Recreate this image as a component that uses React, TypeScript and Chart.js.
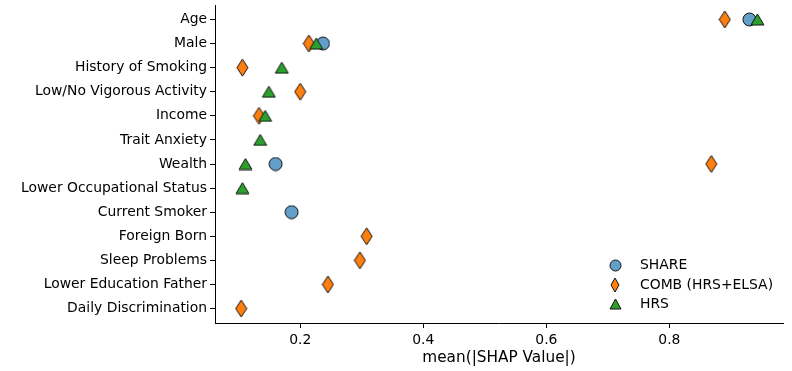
import React, { useEffect, useRef } from 'react';
import { Chart, registerables } from 'chart.js';
Chart.register(...registerables);

const categories = [
  'Age', 'Male', 'History of Smoking', 'Low/No Vigorous Activity', 'Income', 'Trait Anxiety',
  'Wealth', 'Lower Occupational Status', 'Current Smoker', 'Foreign Born', 'Sleep Problems',
  'Lower Education Father', 'Daily Discrimination',
];
const shareValues = [0.930, 0.237, null, null, null, null, 0.160, null, 0.186, null, null, null, null];
const combValues = [0.890, 0.214, 0.106, 0.200, 0.133, null, 0.868, null, null, 0.308, 0.297, 0.245, 0.104];
const hrsValues = [0.943, 0.226, 0.170, 0.149, 0.143, 0.135, 0.111, 0.106, null, null, null, null, null];
const seriesNames = ['SHARE', 'COMB (HRS+ELSA)', 'HRS'];
const xTicks = [0.2, 0.4, 0.6, 0.8];
const xTitle = 'mean(|SHAP Value|)';

const BLUE = '#62a0ca';
const ORANGE = '#ff7f0e';
const GREEN = '#2ca02c';
const FONT = 'DejaVu Sans';
const TICK_SIZE = 13.9;

function makeDiamond(w: number, h: number, color: string) {
  const c = document.createElement('canvas');
  c.width = w + 2; c.height = h + 2;
  const ctx = c.getContext('2d')!;
  const cx = c.width / 2, cy = c.height / 2;
  ctx.beginPath();
  ctx.moveTo(cx, cy - h / 2);
  ctx.lineTo(cx + w / 2, cy);
  ctx.lineTo(cx, cy + h / 2);
  ctx.lineTo(cx - w / 2, cy);
  ctx.closePath();
  ctx.fillStyle = color; ctx.fill();
  ctx.strokeStyle = '#111'; ctx.lineWidth = 1; ctx.stroke();
  return c;
}
function makeTriangle(w: number, h: number, color: string) {
  const c = document.createElement('canvas');
  c.width = w + 2; c.height = h + 2;
  const ctx = c.getContext('2d')!;
  const cx = c.width / 2, cy = c.height / 2;
  ctx.beginPath();
  ctx.moveTo(cx, cy - h / 2);
  ctx.lineTo(cx + w / 2, cy + h / 2);
  ctx.lineTo(cx - w / 2, cy + h / 2);
  ctx.closePath();
  ctx.fillStyle = color; ctx.fill();
  ctx.strokeStyle = '#111'; ctx.lineWidth = 1; ctx.stroke();
  return c;
}
function makeCircle(d: number, color: string) {
  const c = document.createElement('canvas');
  c.width = d + 2; c.height = d + 2;
  const ctx = c.getContext('2d')!;
  ctx.beginPath();
  ctx.arc(c.width / 2, c.height / 2, d / 2, 0, Math.PI * 2);
  ctx.fillStyle = color; ctx.fill();
  ctx.strokeStyle = '#111'; ctx.lineWidth = 1; ctx.stroke();
  return c;
}

function toPoints(values: (number | null)[]) {
  const pts: { x: number; y: number }[] = [];
  values.forEach((v, i) => { if (v !== null) pts.push({ x: v, y: i }); });
  return pts;
}

export default function App() {
  const ref = useRef<HTMLCanvasElement>(null);
  useEffect(() => {
    document.body.style.margin = '0';
    Chart.defaults.font.family = FONT;
    Chart.defaults.color = '#000';
    const markers = [makeCircle(13, BLUE), makeDiamond(11, 17, ORANGE), makeTriangle(13, 11, GREEN)];
    const legendMarkers = [makeCircle(11, BLUE), makeDiamond(8, 14, ORANGE), makeTriangle(11, 10, GREEN)];
    const legendPlugin = {
      id: 'insideLegend',
      afterDraw(chart: any) {
        const { ctx, chartArea } = chart;
        ctx.save();
        ctx.font = `${TICK_SIZE}px ${FONT}`;
        ctx.fillStyle = '#000';
        ctx.textBaseline = 'middle';
        ctx.textAlign = 'left';
        const mx = chartArea.right - 168;
        const rows = [chartArea.bottom - 57.7, chartArea.bottom - 37.7, chartArea.bottom - 19.3];
        seriesNames.forEach((name, i) => {
          const m = legendMarkers[i];
          ctx.drawImage(m, Math.round(mx - m.width / 2), Math.round(rows[i] - m.height / 2));
          ctx.fillText(name, mx + 25, rows[i] + 0.5);
        });
        ctx.restore();
      },
    };
    const chart = new Chart(ref.current!, {
      type: 'scatter',
      data: {
        datasets: [
          { label: seriesNames[0], data: toPoints(shareValues), pointStyle: markers[0] as any, order: 2 },
          { label: seriesNames[1], data: toPoints(combValues), pointStyle: markers[1] as any, order: 1 },
          { label: seriesNames[2], data: toPoints(hrsValues), pointStyle: markers[2] as any, order: 0 },
        ],
      },
      options: {
        animation: false,
        responsive: true,
        maintainAspectRatio: false,
        layout: { padding: { top: 3, right: 9, left: 0, bottom: 0 } },
        plugins: { legend: { display: false }, tooltip: { enabled: false } },
        scales: {
          x: {
            type: 'linear',
            min: 0.0615,
            max: 0.9846,
            afterBuildTicks: (scale: any) => { scale.ticks = xTicks.map((v) => ({ value: v })); },
            afterFit: (scale: any) => { scale.height = 48; scale.paddingLeft = 0; scale.paddingRight = 0; },
            ticks: { font: { size: TICK_SIZE }, color: '#000', padding: 4, callback: (v: any) => Number(v).toFixed(1) },
            grid: { drawOnChartArea: false, drawTicks: true, tickLength: 5, color: '#000' },
            border: { display: true, color: '#000', width: 1 },
            title: { display: true, text: xTitle, font: { size: 15.3 }, color: '#000', padding: { top: 2, bottom: 4 } },
          },
          y: {
            type: 'linear',
            reverse: true,
            min: -0.6,
            max: 12.6,
            afterBuildTicks: (scale: any) => { scale.ticks = categories.map((_, i) => ({ value: i })); },
            afterFit: (scale: any) => { scale.width = 215; scale.paddingTop = 0; scale.paddingBottom = 0; },
            ticks: { font: { size: TICK_SIZE }, color: '#000', padding: 3, autoSkip: false, callback: (v: any) => categories[v] },
            grid: { drawOnChartArea: false, drawTicks: true, tickLength: 5, color: '#000' },
            border: { display: true, color: '#000', width: 1 },
          },
        },
      },
      plugins: [legendPlugin],
    });
    return () => chart.destroy();
  }, []);
  return (
    <div style={{ width: 792, height: 371, position: 'relative' }}>
      <canvas ref={ref} />
    </div>
  );
}
